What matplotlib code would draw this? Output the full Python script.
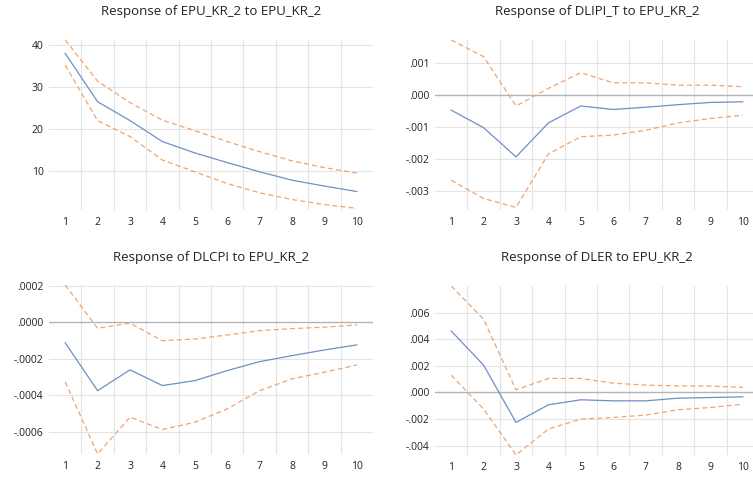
import matplotlib
matplotlib.use("Agg")
import matplotlib.pyplot as plt
from matplotlib.ticker import FuncFormatter

plt.rcParams["font.family"] = ["Open Sans", "DejaVu Sans"]

periods = [1, 2, 3, 4, 5, 6, 7, 8, 9, 10]

# Response of EPU_KR_2 to EPU_KR_2
epu_mid = [38.0, 26.5, 22.0, 17.0, 14.3, 12.0, 9.8, 7.8, 6.4, 5.1]
epu_up = [41.2, 31.4, 26.3, 22.1, 19.6, 17.0, 14.6, 12.4, 10.8, 9.5]
epu_lo = [35.2, 22.0, 18.2, 12.6, 9.8, 7.0, 4.8, 3.2, 2.0, 1.1]

# Response of DLIPI_T to EPU_KR_2
ipi_mid = [-0.00047, -0.00102, -0.00193, -0.00087, -0.00034, -0.00045, -0.00038, -0.00030, -0.00023, -0.00021]
ipi_up = [0.00172, 0.00120, -0.00034, 0.00021, 0.00070, 0.00038, 0.00038, 0.00031, 0.00031, 0.00026]
ipi_lo = [-0.00266, -0.00323, -0.00351, -0.00184, -0.00130, -0.00125, -0.00110, -0.00087, -0.00073, -0.00063]

# Response of DLCPI to EPU_KR_2
cpi_mid = [-0.000113, -0.000375, -0.000261, -0.000347, -0.000320, -0.000265, -0.000216, -0.000183, -0.000152, -0.000124]
cpi_up = [0.000204, -0.000033, -0.000005, -0.000101, -0.000092, -0.000070, -0.000046, -0.000035, -0.000027, -0.000015]
cpi_lo = [-0.000327, -0.000722, -0.000520, -0.000588, -0.000548, -0.000475, -0.000375, -0.000310, -0.000274, -0.000234]

# Response of DLER to EPU_KR_2
er_mid = [0.00462, 0.00205, -0.00225, -0.00093, -0.00055, -0.00063, -0.00063, -0.00043, -0.00038, -0.00033]
er_up = [0.0080, 0.0055, 0.0002, 0.00105, 0.00105, 0.0007, 0.00055, 0.0005, 0.00048, 0.00038]
er_lo = [0.0013, -0.00125, -0.0047, -0.00275, -0.0020, -0.00188, -0.0017, -0.0013, -0.00113, -0.00088]

W, H = 753, 478
fig = plt.figure(figsize=(W / 100, H / 100), dpi=100)


def make_ax(x0, y0, x1, y1):
    return fig.add_axes([x0 / W, 1 - y1 / H, (x1 - x0) / W, (y1 - y0) / H])


def fmt(decimals):
    def f(v, pos):
        if decimals == 0:
            return "%d" % round(v)
        s = "%.*f" % (decimals, v)
        if abs(v) < 10 ** (-decimals - 2):
            s = "%.*f" % (decimals, 0.0)
        return s.replace("0.", ".", 1)
    return FuncFormatter(f)


panels = [
    ("Response of EPU_KR_2 to EPU_KR_2", epu_mid, epu_up, epu_lo,
     (49, 40, 373, 210), (0.7, 41.2), [10, 20, 30, 40], 0, False),
    ("Response of DLIPI_T to EPU_KR_2", ipi_mid, ipi_up, ipi_lo,
     (435, 40, 759, 210), (-0.00359, 0.00172), [-0.003, -0.002, -0.001, 0.0, 0.001], 3, True),
    ("Response of DLCPI to EPU_KR_2", cpi_mid, cpi_up, cpi_lo,
     (49, 285, 373, 454), (-0.000722, 0.000204), [-0.0006, -0.0004, -0.0002, 0.0, 0.0002], 4, True),
    ("Response of DLER to EPU_KR_2", er_mid, er_up, er_lo,
     (435, 286, 759, 455), (-0.0047, 0.0080), [-0.004, -0.002, 0.0, 0.002, 0.004, 0.006], 3, True),
]

for title, mid, up, lo, box, ylim, yticks, dec, zero in panels:
    ax = make_ax(*box)
    ax.set_xlim(0.5, 10.5)
    ax.set_ylim(*ylim)
    for v in yticks:
        if zero and v == 0:
            ax.axhline(0, color="#b4b4b4", lw=1.0, zorder=1)
        else:
            ax.axhline(v, color="#e4e4e4", lw=0.8, zorder=0)
    for xv in [1.5, 2.5, 3.5, 4.5, 5.5, 6.5, 7.5, 8.5, 9.5]:
        ax.axvline(xv, color="#e4e4e4", lw=0.8, zorder=0)
    ax.plot(periods, up, color="#f0a46e", lw=0.9, ls=(0, (4, 2.5)), zorder=3)
    ax.plot(periods, lo, color="#f0a46e", lw=0.9, ls=(0, (4, 2.5)), zorder=3)
    ax.plot(periods, mid, color="#6f8fc7", lw=0.9, zorder=4)
    ax.set_xticks(periods)
    ax.set_yticks(yticks)
    ax.yaxis.set_major_formatter(fmt(dec))
    ax.tick_params(length=0, labelsize=7.5, colors="#222222", pad=5)
    ax.tick_params(axis="y", pad=4)
    for s in ax.spines.values():
        s.set_visible(False)
    cx = (box[0] + box[2]) / 2
    ty = 12 if box[1] < 100 else 257
    fig.text(cx / W, 1 - ty / H, title, ha="center", va="center", fontsize=9.5, color="#222222")

fig.savefig("out.png", dpi=100)
